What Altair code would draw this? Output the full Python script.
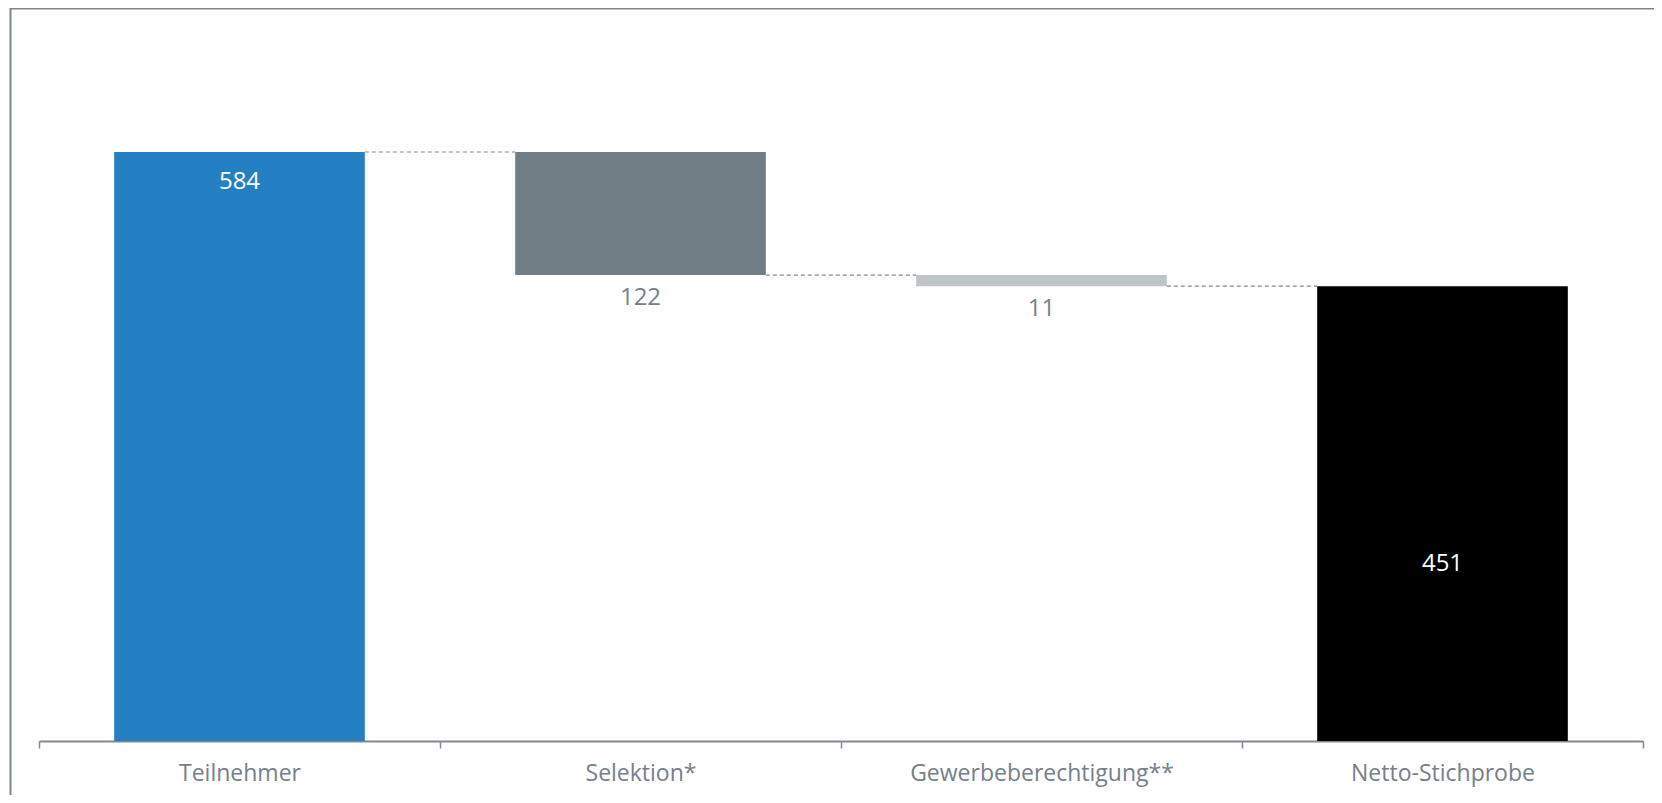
import altair as alt
import pandas as pd

categories = ["Teilnehmer", "Selektion*", "Gewerbeberechtigung**", "Netto-Stichprobe"]
values = [584, -122, -11, 451]
kinds = ["total", "delta", "delta", "total"]
bar_colors = ["#2580c3", "#717e86", "#bfc5c5", "#000000"]
label_colors = ["#ffffff", "#75808a", "#75808a", "#ffffff"]

rows = []
running = 0
for c, v, k, col, lc in zip(categories, values, kinds, bar_colors, label_colors):
    if k == "total":
        start, end = 0, v
        running = v
    else:
        start, end = running, running + v
        running = end
    rows.append(dict(cat=c, start=start, end=end, label=str(abs(v)), color=col, lcolor=lc,
                     mid=(start + end) / 2, kind=k))
df = pd.DataFrame(rows)

conn = []
for i in range(len(categories) - 1):
    conn.append(dict(frm=categories[i], to=categories[i + 1], level=rows[i]["end"]))
conn_df = pd.DataFrame(conn)

FONT = "Open Sans"
BAR_FRAC = 0.625
xscale = alt.Scale(domain=categories, paddingInner=0, paddingOuter=0)
yscale = alt.Scale(domain=[0, 700], nice=False)

base = alt.Chart(df)

bars = base.mark_bar(width=alt.RelativeBandSize(BAR_FRAC)).encode(
    x=alt.X("cat:N", scale=xscale, sort=categories,
            axis=alt.Axis(title=None, labelAngle=0, labelFont=FONT, labelFontSize=23,
                          labelColor="#75808a", labelPadding=14, labelLimit=400,
                          domainColor="#7f8a93",
                          domainWidth=2, tickColor="#7f8a93", tickWidth=1.5, tickSize=7,
                          tickBand="extent", grid=False)),
    y=alt.Y("start:Q", scale=yscale, axis=None),
    y2="end:Q",
    color=alt.Color("color:N", scale=None),
)

connectors = alt.Chart(conn_df).mark_rule(color="#7f8a93", strokeWidth=1.2, strokeDash=[4, 3]).encode(
    x=alt.X("frm:N", scale=xscale, sort=categories, bandPosition=0.5 + BAR_FRAC / 2),
    x2=alt.X2("to", bandPosition=0.5 - BAR_FRAC / 2),
    y=alt.Y("level:Q", scale=yscale),
)

top_label = base.transform_filter(alt.datum.cat == categories[0]).mark_text(
    font=FONT, fontSize=24, baseline="middle", dy=30
).encode(x=alt.X("cat:N", scale=xscale, sort=categories), y=alt.Y("end:Q", scale=yscale),
         text="label:N", color=alt.Color("lcolor:N", scale=None))

delta_labels = base.transform_filter(alt.datum.kind == "delta").mark_text(
    font=FONT, fontSize=24, baseline="middle", dy=23
).encode(x=alt.X("cat:N", scale=xscale, sort=categories), y=alt.Y("end:Q", scale=yscale),
         text="label:N", color=alt.Color("lcolor:N", scale=None))

net_label = base.transform_filter(alt.datum.cat == categories[3]).mark_text(
    font=FONT, fontSize=24, baseline="middle", dy=50
).encode(x=alt.X("cat:N", scale=xscale, sort=categories), y=alt.Y("mid:Q", scale=yscale),
         text="label:N", color=alt.Color("lcolor:N", scale=None))

frame_data = alt.Data(values=[{"a": 1}])
frame_left = alt.Chart(frame_data).mark_rule(color="#7a858d", strokeWidth=2).encode(
    x=alt.value(-28.5), y=alt.value(-26), y2=alt.value(790))
frame_top = alt.Chart(frame_data).mark_rule(color="#7a858d", strokeWidth=1.5).encode(
    x=alt.value(-29.5), x2=alt.value(1620), y=alt.value(-26.2))

chart = alt.layer(bars, connectors, top_label, delta_labels, net_label, frame_left, frame_top).properties(
    width=1604, height=706,
    padding={"left": 31, "top": 27, "right": 11, "bottom": 54},
    autosize=alt.AutoSizeParams(type="none"),
).configure_view(stroke=None)

chart.save("out.html", embed_options={"renderer": "svg", "actions": False})
